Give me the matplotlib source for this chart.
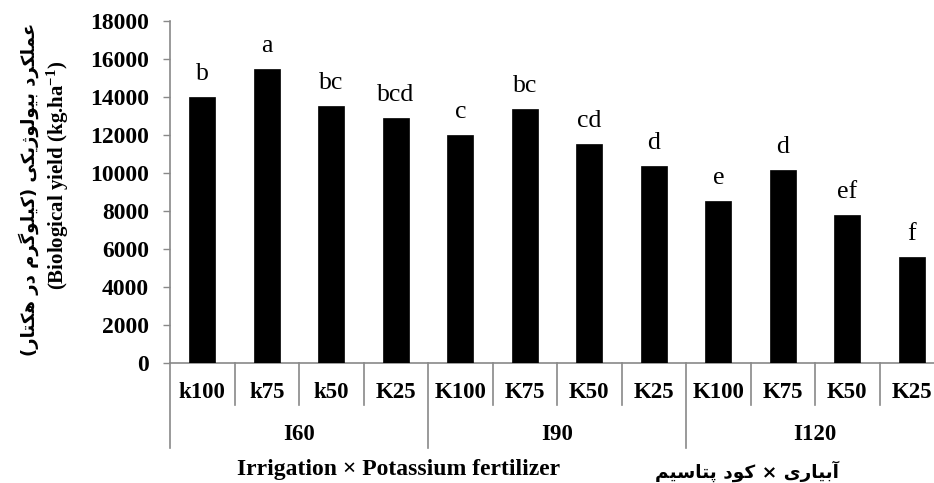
import matplotlib
matplotlib.use("Agg")
import matplotlib.pyplot as plt
from matplotlib.lines import Line2D

plt.rcParams['mathtext.fontset'] = 'custom'
plt.rcParams['mathtext.rm'] = 'Liberation Serif:bold'
plt.rcParams['mathtext.bf'] = 'Liberation Serif:bold'
plt.rcParams['mathtext.it'] = 'Liberation Serif:bold'

# ---------------- data ----------------
categories = ["k100", "k75", "k50", "K25", "K100", "K75", "K50", "K25",
              "K100", "K75", "K50", "K25"]
groups = ["I60", "I90", "I120"]
values = [13970, 15440, 13500, 12880, 12000, 13370, 11530, 10360,
          8530, 10160, 7800, 5590]
letters = ["b", "a", "bc", "bcd", "c", "bc", "cd", "d", "e", "d", "ef", "f"]
yticks = list(range(0, 18001, 2000))

xtitle_en = "Irrigation \u00d7 Potassium fertilizer"
# Persian x title, visual (shaped) order: آبیاری × کود پتاسیم
xtitle_fa = ("\uFEE2\uFBFF\uFEB3\uFE8E\uFE98\uFB58" + " " +
             "\uFEA9\uFEEE\uFB90" + " \u00d7 " +
             "\uFBFC\uFEAD\uFE8E\uFBFF\uFE91\uFE81")
# Persian y title, visual (shaped) order: عملکرد بیولوژیکی (کیلوگرم در هکتار)
ytitle_fa = ("(" + "\uFEAD\uFE8E\uFE98\uFB91\uFEEB" + " " + "\uFEAD\uFEA9" + " " +
             "\uFEE1\uFEAE\uFB94\uFEEE\uFEE0\uFBFF\uFB90" + ")" + " " +
             "\uFBFD\uFB91\uFBFE\uFB8A\uFEEE\uFEDF\uFEEE\uFBFF\uFE91" + " " +
             "\uFEA9\uFEAE\uFB91\uFEE0\uFEE4\uFECB")
ytitle_en = r"(Biological yield (kg.ha$^{\mathbf{-1}}$)"

# ---------------- layout ----------------
W, H = 934, 483
fig = plt.figure(figsize=(W / 100, H / 100), dpi=100)
y0, y1 = 363.0, 20.7
ax = fig.add_axes([170 / W, (H - y0) / H, (944 - 170) / W, (y0 - y1) / H])

def fy(px):
    return (y0 - px) / (y0 - y1)

gray = "#898989"
serif = "Liberation Serif"

x = list(range(len(values)))
ax.bar(x, values, width=0.4, color="black", edgecolor="black", linewidth=0.5, zorder=3)
ax.set_xlim(-0.5, len(values) - 0.5)
ax.set_ylim(0, 18000)
ax.set_yticks(yticks)
ax.set_yticklabels([str(v) for v in yticks], fontfamily=serif, fontweight="bold", fontsize=17)
ax.tick_params(axis="y", direction="out", length=5, width=1, color=gray, pad=10)
ax.set_xticks([])
for s in ["top", "right"]:
    ax.spines[s].set_visible(False)
for s in ["left", "bottom"]:
    ax.spines[s].set_color(gray)
    ax.spines[s].set_linewidth(1.2)

# significance letters
for xi, v, l in zip(x, values, letters):
    ax.annotate(l, (xi, v), xytext=(0, 12.3), textcoords="offset points",
                ha="center", va="baseline", fontfamily=serif, fontsize=18.5)

trans = ax.get_xaxis_transform()
# category labels
for xi, c in zip(x, categories):
    ax.text(xi, fy(392), c, transform=trans, ha="center", va="center",
            fontfamily=serif, fontweight="bold", fontsize=16.5)
# separators
n_per = len(categories) // len(groups)
for b in range(len(categories) + 1):
    xb = b - 0.5
    if b % n_per == 0:
        ybot = fy(448)
    else:
        ybot = fy(405)
    ax.add_line(Line2D([xb, xb], [0, ybot], transform=trans, color=gray,
                       linewidth=1.2, clip_on=False))
# group labels
for gi, g in enumerate(groups):
    xc = gi * n_per + (n_per - 1) / 2
    ax.text(xc, fy(435), g, transform=trans, ha="center", va="center",
            fontfamily=serif, fontweight="bold", fontsize=16.5)

# axis titles
fig.text(399 / W, 1 - 470 / H, xtitle_en, ha="center", va="center",
         fontfamily=serif, fontweight="bold", fontsize=17)
fig.text(747 / W, 1 - 471 / H, xtitle_fa, ha="center", va="center",
         family=["DejaVu Sans"], fontweight="bold", fontsize=13.3)
fig.text(29 / W, 1 - 189 / H, ytitle_fa, ha="center", va="center", rotation=90,
         family=["DejaVu Sans"], fontweight="bold", fontsize=13)
fig.text(58 / W, 1 - 175 / H, ytitle_en, ha="center", va="center", rotation=90,
         fontfamily=serif, fontweight="bold", fontsize=15)

fig.savefig("out.png", dpi=100)
